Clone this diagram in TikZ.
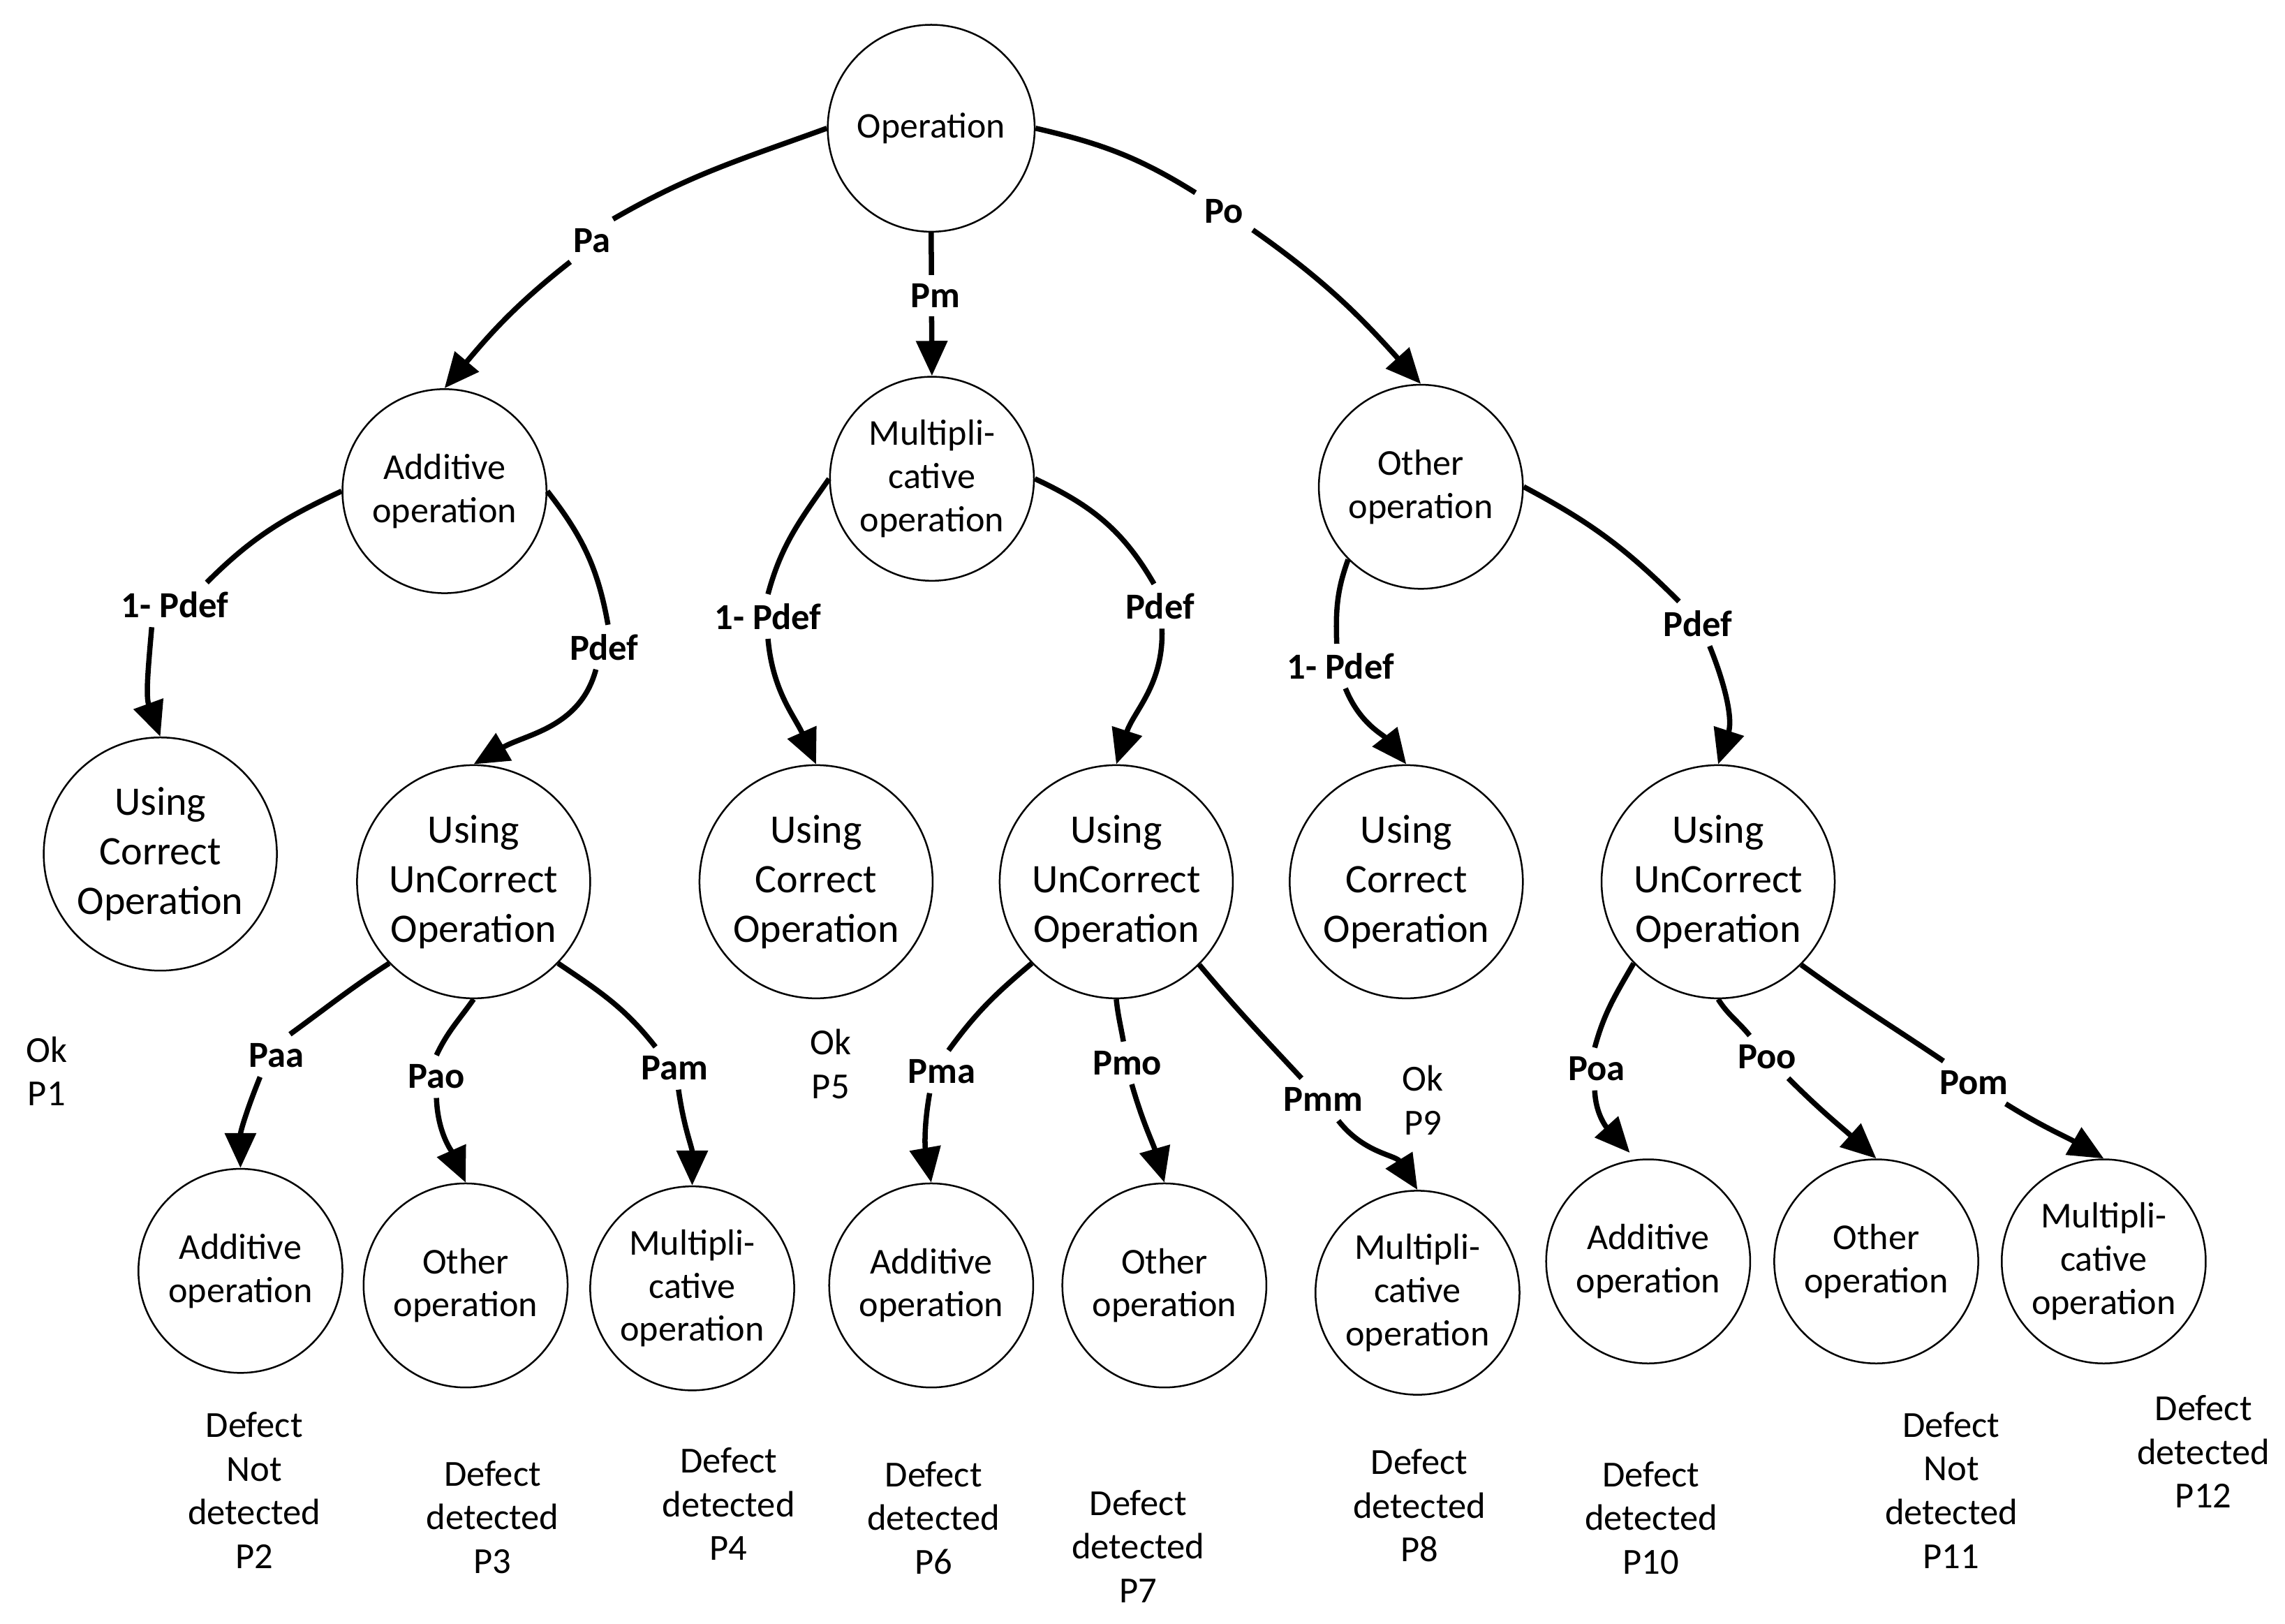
\documentclass[tikz,border=0pt]{standalone}
\usepackage{fontspec}
\setmainfont{Carlito}
\usetikzlibrary{arrows.meta}
\begin{document}
\begin{tikzpicture}[x=0.5pt,y=0.5pt,
  circ/.style={circle, draw, line width=0.6pt, inner sep=0pt, align=center, font=\fontsize{12.5}{14.8}\selectfont},
  smallc/.style={circ, minimum size=70pt},
  bigc/.style={circ, minimum size=80pt, font=\fontsize{13.9}{17}\selectfont},
  rootc/.style={circ, minimum size=71pt, font=\fontsize{12.4}{14.8}\selectfont},
  plab/.style={inner sep=3pt, font=\bfseries\fontsize{12.6}{14}\selectfont, fill=white},
  restxt/.style={align=center, inner sep=0pt, font=\fontsize{12.6}{15}\selectfont},
  conn/.style={line width=1.8pt},
  arr/.style={-{Triangle[length=12pt,width=10.5pt]}}]
\path[use as bounding box] (0,0) rectangle (1568,-1113.9);

% circle nodes
\node[rootc] (op) at (639,-88) {Operation};
\node[smallc] (add) at (305,-337) {Additive\\operation};
\node[smallc] (mul) at (639.5,-328.5) {Multipli-\\cative\\operation};
\node[smallc] (oth) at (975,-334) {Other\\operation};
\node[bigc] (ucl) at (110,-586) {Using\\Correct\\Operation};
\node[bigc] (uca) at (325,-605) {Using\\UnCorrect\\Operation};
\node[bigc] (ucc) at (560,-605) {Using\\Correct\\Operation};
\node[bigc] (ucm) at (766,-605) {Using\\UnCorrect\\Operation};
\node[bigc] (occ) at (965,-605) {Using\\Correct\\Operation};
\node[bigc] (uco) at (1179,-605) {Using\\UnCorrect\\Operation};
\node[smallc] (aa) at (165,-872) {Additive\\operation};
\node[smallc] (oa) at (319.5,-882) {Other\\operation};
\node[smallc] (ma) at (475,-884) {Multipli-\\cative\\operation};
\node[smallc] (am) at (639,-882) {Additive\\operation};
\node[smallc] (om) at (799,-882) {Other\\operation};
\node[smallc] (mm) at (972.7,-887) {Multipli-\\cative\\operation};
\node[smallc] (aO) at (1131,-865.5) {Additive\\operation};
\node[smallc] (oO) at (1287.5,-865.5) {Other\\operation};
\node[smallc] (mO) at (1443.6,-865.5) {Multipli-\\cative\\operation};

% edge labels
\node[plab] (Pa) at (406,-165) {Pa};
\node[plab] (Po) at (840,-145) {Po};
\node[plab] (L1) at (120,-415) {1- Pdef};
\node[plab] (Pd1) at (414.5,-444) {Pdef};
\node[plab] (L2) at (527,-423) {1- Pdef};
\node[plab] (Pd2) at (796,-416) {Pdef};
\node[plab] (L3) at (920,-457) {1- Pdef};
\node[plab] (Pd3) at (1165,-428) {Pdef};
\node[plab] (Paa) at (189.5,-724.3) {Paa};
\node[plab] (Pao) at (299.5,-738.7) {Pao};
\node[plab] (Pam) at (463,-733) {Pam};
\node[plab] (Pma) at (646.4,-735.4) {Pma};
\node[plab] (Pmo) at (773.5,-729.3) {Pmo};
\node[plab] (Pmm) at (908.2,-754.4) {Pmm};
\node[plab] (Poa) at (1095.6,-733.5) {Poa};
\node[plab] (Poo) at (1212.5,-725.2) {Poo};
\node[plab] (Pom) at (1354.6,-742.7) {Pom};

% result texts
\node[restxt] (r1) at (32,-735) {Ok\\P1};
\node[restxt] (r5) at (570,-730) {Ok\\P5};
\node[restxt] (r9) at (976.5,-755) {Ok\\P9};
\node[restxt] (r2) at (174.5,-1022.5) {Defect\\Not\\detected\\P2};
\node[restxt] (r3) at (338,-1041) {Defect\\detected\\P3};
\node[restxt] (r4) at (500,-1032) {Defect\\detected\\P4};
\node[restxt] (r6) at (640.6,-1041.4) {Defect\\detected\\P6};
\node[restxt] (r7) at (781,-1061) {Defect\\detected\\P7};
\node[restxt] (r8) at (974,-1033) {Defect\\detected\\P8};
\node[restxt] (r10) at (1133,-1041.5) {Defect\\detected\\P10};
\node[restxt] (r11) at (1339,-1022.4) {Defect\\Not\\detected\\P11};
\node[restxt] (r12) at (1512,-996) {Defect\\detected\\P12};

% level 1 edges
\draw[conn] (op.180) to[out=200,in=30] (Pa.45);
\draw[conn,arr] (Pa.-135) to[out=218,in=50] (add.north);
\draw[conn,arr] (op.south) -- (mul.north);
\node[plab] (Pm) at (642,-203) {Pm};
\draw[conn] (op.east) to[out=-13,in=148] (Po.147);
\draw[conn,arr] (Po.-33) to[out=-35,in=132] (oth.north);

% level 2 edges
\draw[conn] (add.west) to[out=205,in=45] (L1.35);
\draw[conn,arr] (L1.-136) to[out=-95,in=110] (ucl.north);
\draw[conn] (add.east) to[out=-52,in=100] (Pd1.80);
\draw[conn,arr] (Pd1.-110) to[out=-105,in=30] (uca.north);
\draw[conn] (mul.west) to[out=235,in=75] (L2.north);
\draw[conn,arr] (L2.south) to[out=-85,in=114] (ucc.north);
\draw[conn] (mul.east) to[out=-25,in=120] (Pd2.105);
\draw[conn,arr] (Pd2.-85) to[out=-88,in=72] (ucm.north);
\draw[conn] (oth.225) to[out=250,in=92] (L3.100);
\draw[conn,arr] (L3.-78) to[out=-68,in=128] (occ.north);
\draw[conn] (oth.east) to[out=-28,in=135] (Pd3.130);
\draw[conn,arr] (Pd3.-62) to[out=-68,in=72] (uco.north);

% level 3 edges
\draw[conn] (uca.224) to[out=213,in=36] (Paa.57);
\draw[conn,arr] (Paa.-127) to[out=-112,in=90] (aa.north);
\draw[conn] (uca.south) to[out=235,in=65] (Pao.north);
\draw[conn,arr] (Pao.south) to[out=-88,in=114] (oa.north);
\draw[conn] (uca.-44) to[out=-34,in=128] (Pam.132);
\draw[conn,arr] (Pam.-80) to[out=-82,in=90] (ma.north);

\draw[conn] (ucm.224) to[out=220,in=54] (Pma.73);
\draw[conn,arr] (Pma.-120) to[out=-100,in=100] (am.north);
\draw[conn] (ucm.south) to[out=-84,in=100] (Pmo.100);
\draw[conn,arr] (Pmo.-78) to[out=-74,in=106] (om.north);
\draw[conn] (ucm.-45) to[out=-50,in=133] (Pmm.136);
\draw[conn,arr] (Pmm.-55) to[out=-52,in=122] (mm.north);

\draw[conn] (uco.224) to[out=240,in=75] (Poa.95);
\draw[conn,arr,shorten >=3pt] (Poa.-95) to[out=-88,in=132] (aO.97);
\draw[conn] (uco.south) to[out=-58,in=129] (Poo.129);
\draw[conn,arr] (Poo.-45) to[out=-45,in=138] (oO.north);
\draw[conn] (uco.-45) to[out=-36,in=146] (Pom.145);
\draw[conn,arr] (Pom.-34) to[out=-32,in=150] (mO.north);
\end{tikzpicture}
\end{document}
